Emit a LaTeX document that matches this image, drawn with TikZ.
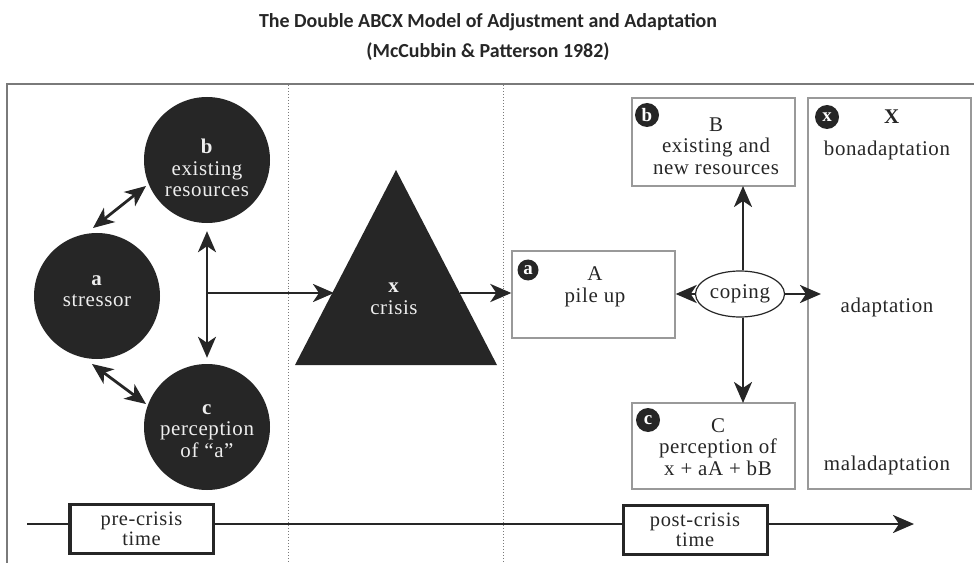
\documentclass[tikz,border=0pt]{standalone}
\usepackage{fontspec}
\newfontfamily\titlefont{Carlito}
\newfontfamily\diagfont{Liberation Serif}[LetterSpace=3]
\usetikzlibrary{arrows.meta,calc,shapes.geometric}
\definecolor{ink}{HTML}{262626}
\definecolor{framegray}{HTML}{7A7A7A}
\definecolor{boxgray}{HTML}{999999}
\definecolor{paletext}{HTML}{EEEEEE}
\begin{document}
\begin{tikzpicture}[x=1bp,y=-1bp,
  dfont/.style={font=\diagfont\fontsize{21}{21.5}\selectfont},
  dtext/.style={dfont, align=center, inner sep=0pt, text=ink},
  bigcircle/.style={circle, fill=ink, draw=none, minimum size=126bp, text=paletext, dfont, align=center, inner sep=0pt},
  badge/.style={circle, fill=ink, minimum size=22bp, inner sep=0pt, text=white, font=\diagfont\fontsize{19}{19}\selectfont\bfseries},
  box/.style={draw=boxgray, line width=1.3bp, rectangle, inner sep=0pt, minimum width=163bp},
  conn/.style={line width=2.8bp, draw=ink, -{Stealth[length=21bp,width=18bp,inset=6bp]}},
  dconn/.style={line width=2.8bp, draw=ink, {Stealth[length=21bp,width=18bp,inset=6bp]}-{Stealth[length=21bp,width=18bp,inset=6bp]}},
  timebox/.style={draw=ink, line width=3bp, fill=white, inner sep=0pt, minimum height=49bp, align=center, text=ink, font=\diagfont\fontsize{20.5}{20}\selectfont},
  divider/.style={draw=framegray, line width=1bp, dotted},
]
\useasboundingbox (0,0) rectangle (974,563);
% title
\node[text=ink, font=\titlefont\bfseries\fontsize{20}{20}\selectfont] (title1) at (488,22) {The Double ABCX Model of Adjustment and Adaptation};
\node[text=ink, font=\titlefont\bfseries\fontsize{20}{20}\selectfont] (title2) at (488,52) {(McCubbin \& Patterson 1982)};
% frame
\coordinate (fbl) at (7,563);
\coordinate (ftl) at (7,84);
\coordinate (ftr) at (974,84);
\draw[framegray, line width=2bp] (fbl) -- (ftl) -- (ftr);
% dividers
\coordinate (d1t) at (288,85); \coordinate (d1b) at (288,563);
\coordinate (d2t) at (503,85); \coordinate (d2b) at (503,563);
\draw[divider] (d1t) -- (d1b);
\draw[divider] (d2t) -- (d2b);
% circles
\node[bigcircle] (b) at (207,160) {};
\node[dtext, text=paletext] (btext) at (207,168) {\textbf{b}\\existing\\resources};
\node[bigcircle] (a) at (97,296) {};
\node[dtext, text=paletext] (atext) at (97,291) {\textbf{a}\\stressor};
\node[bigcircle] (c) at (207,427) {};
\node[dtext, text=paletext] (ctext) at (207,431) {\textbf{c}\\perception\\of “a”};
% arrows among circles
\coordinate (ab1) at (93,228); \coordinate (ab2) at (146,186);
\coordinate (ac1) at (92,364); \coordinate (ac2) at (146,404);
\draw[dconn] (ab1) -- (ab2);
\draw[dconn] (ac1) -- (ac2);
\draw[dconn, shorten <=8bp, shorten >=6bp] (b.south) -- (c.north);
% crisis triangle
\fill[ink] (396,170) -- (295,365) -- (497,365) -- cycle;
\node[dtext, text=paletext] (crisis) at (394,299) {\textbf{x}\\crisis};
\coordinate (split) at (208,293);
\coordinate (tL) at (334,293);
\coordinate (tR) at (460,293);
\draw[conn] (split) -- (tL);
% post-crisis boxes
\node[box, minimum height=87bp] (A) at (593.5,294.5) {};
\node[dtext] (Atext) at (595,287) {A\\pile up};
\node[badge, minimum size=21bp] (Abadge) at (528,270) {a};
\draw[conn] (tR) -- (tR -| A.west);

\node[box, minimum height=88bp] (B) at (713.5,142) {};
\node[dtext] (Btext) at (716,146) {B\\existing and\\new resources};
\node[badge, minimum size=24bp] (Bbadge) at (647,115) {b};

\node[box, minimum height=86bp] (C) at (713.5,446) {};
\node[dtext] (Ctext) at (718,447) {C\\perception of\\x + aA + bB};
\node[badge, minimum size=24bp] (Cbadge) at (648,420) {c};

\node[box, minimum height=391bp] (X) at (889.5,293.5) {};
\node[dtext] (Xtitle) at (892,117) {\textbf{X}};
\node[dtext] (bonad) at (887,150) {bonadaptation};
\node[dtext] (adapt) at (887,307) {adaptation};
\node[dtext] (malad) at (887,465) {maladaptation};
\node[badge, minimum size=24bp] (Xbadge) at (827,117) {x};

% coping
\node[ellipse, draw=ink, line width=1.2bp, minimum width=89bp, minimum height=46bp, inner sep=0pt, dfont, text=ink] (coping) at (740,294) {coping};
\coordinate (copR) at (821,294);
\coordinate (upEnd) at (743,186);
\coordinate (downEnd) at (743,403);
\draw[conn] (coping.west) -- (coping.west -| A.east);
\draw[conn] (coping.east) -- (copR);
\draw[conn] (coping.north -| upEnd) -- (upEnd);
\draw[conn] (coping.south -| downEnd) -- (downEnd);
% timeline
\node[timebox, minimum width=143bp] (pre) at (141.5,529) {pre-crisis\\time};
\node[timebox, minimum width=144bp] (post) at (695,530) {post-crisis\\time};
\coordinate (tstart) at (27,524);
\coordinate (tend) at (914,524);
\draw[ink, line width=2.8bp] (tstart) -- (tstart -| pre.west);
\draw[ink, line width=2.8bp] (pre.east |- tstart) -- (post.west |- tstart);
\draw[conn] (post.east |- tstart) -- (tend);
\end{tikzpicture}
\end{document}
